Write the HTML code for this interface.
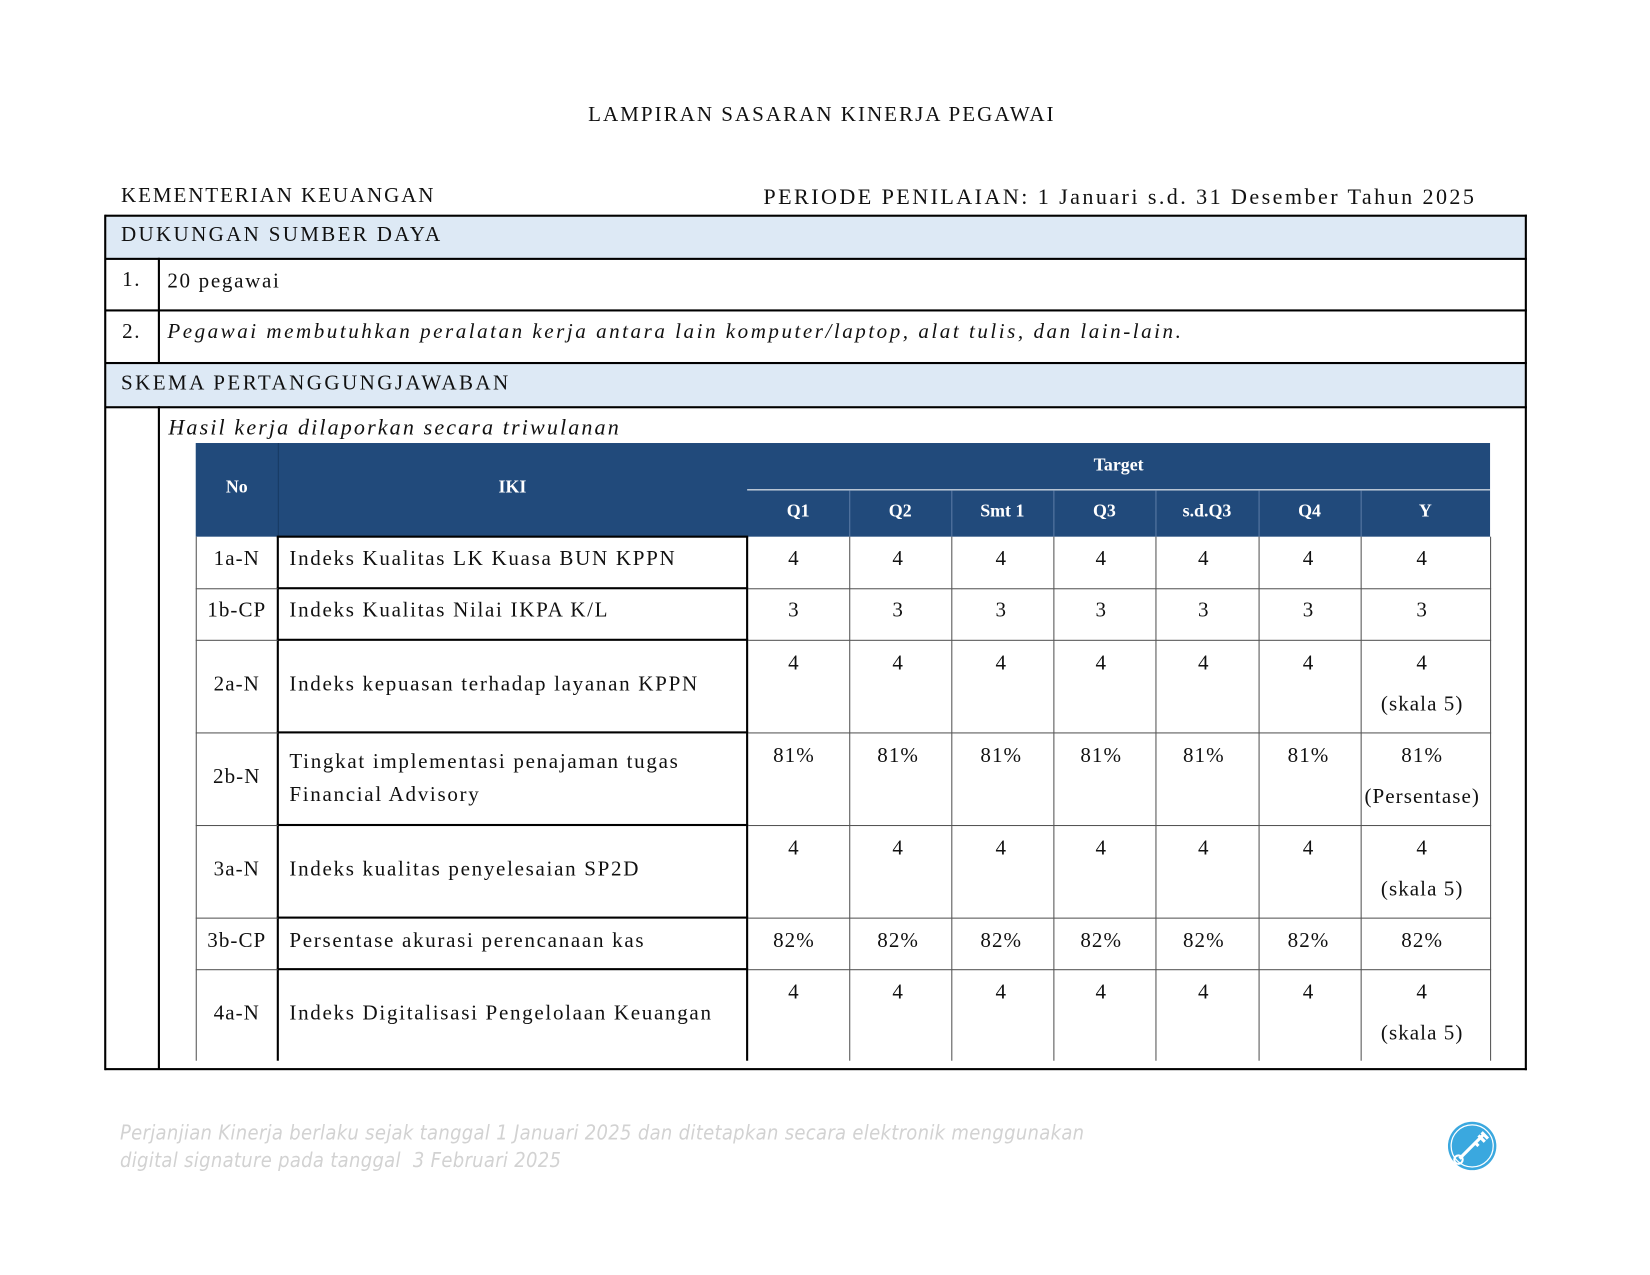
<!DOCTYPE html>
<html><head><meta charset="utf-8"><style>
html,body{margin:0;padding:0;background:#fff;}
body{width:1650px;height:1275px;overflow:hidden;position:relative;}
#pg{position:absolute;left:0;top:0;width:1568px;height:1212px;transform:scale(1.05230);transform-origin:0 0;font-family:"Liberation Serif",serif;color:#111;}
.a{position:absolute;white-space:nowrap;}
.hl{position:absolute;height:2px;background:#000;}
.vl{position:absolute;width:2px;background:#000;}
.band{position:absolute;left:101px;width:1348px;background:#dde9f5;}
.t{font-size:20px;letter-spacing:1.6px;}
.c{position:absolute;text-align:center;font-size:20px;letter-spacing:1px;}
.hd{position:absolute;color:#fff;font-weight:bold;font-size:17px;text-align:center;}
.gv{position:absolute;width:1px;background:#555;}
.gh{position:absolute;height:1px;background:#555;}
</style></head><body><div id="pg">
<div class="a" style="left:0;width:1562px;text-align:center;top:98px;font-size:20px;letter-spacing:1.9px;">LAMPIRAN SASARAN KINERJA PEGAWAI</div>
<div class="a t" style="left:115px;top:175px;letter-spacing:1.8px;">KEMENTERIAN KEUANGAN</div>
<div class="a t" style="right:165px;top:175px;font-size:21px;letter-spacing:2.3px;">PERIODE PENILAIAN: 1 Januari s.d. 31 Desember Tahun 2025</div>

<div class="band" style="top:206px;height:40px;"></div>
<div class="band" style="top:346px;height:40px;"></div>
<div class="hl" style="left:100px;width:1351px;top:204px;"></div>
<div class="hl" style="left:100px;width:1351px;top:245px;"></div>
<div class="hl" style="left:100px;width:1351px;top:294px;"></div>
<div class="hl" style="left:100px;width:1351px;top:344px;"></div>
<div class="hl" style="left:100px;width:1351px;top:386px;"></div>
<div class="hl" style="left:100px;width:1351px;top:1015px;"></div>
<div class="vl" style="left:99px;top:204px;height:813px;"></div>
<div class="vl" style="left:1449px;top:204px;height:813px;"></div>
<div class="vl" style="left:150px;top:245px;height:100px;"></div>
<div class="vl" style="left:150px;top:386px;height:630px;"></div>

<div class="a t" style="left:115px;top:212px;letter-spacing:2.2px;">DUKUNGAN SUMBER DAYA</div>
<div class="a t" style="left:116px;top:255px;">1.</div>
<div class="a t" style="left:159px;top:256px;">20 pegawai</div>
<div class="a t" style="left:116px;top:304px;">2.</div>
<div class="a t" style="left:159px;top:304px;font-style:italic;letter-spacing:2.4px;">Pegawai membutuhkan peralatan kerja antara lain komputer/laptop, alat tulis, dan lain-lain.</div>
<div class="a t" style="left:115px;top:353px;letter-spacing:2.3px;">SKEMA PERTANGGUNGJAWABAN</div>
<div class="a" style="left:160px;top:394px;font-size:21px;font-style:italic;letter-spacing:2px;">Hasil kerja dilaporkan secara triwulanan</div>

<div style="position:absolute;left:186px;top:421px;width:1230px;height:89px;background:#214a7b;"></div>
<div class="gv" style="left:264px;top:421px;height:89px;background:#173a63;"></div>
<div class="gh" style="left:710px;top:465px;width:706px;background:#fff;"></div>
<div class="hd" style="left:186px;width:78px;top:453px;">No</div>
<div class="hd" style="left:264px;width:446px;top:453px;">IKI</div>
<div class="hd" style="left:710px;width:706px;top:432px;">Target</div>
<div class="hd" style="left:710px;width:97px;top:476px;">Q1</div>
<div class="hd" style="left:807px;width:97px;top:476px;">Q2</div>
<div class="hd" style="left:904px;width:97px;top:476px;">Smt 1</div>
<div class="hd" style="left:1001px;width:97px;top:476px;">Q3</div>
<div class="hd" style="left:1098px;width:98px;top:476px;">s.d.Q3</div>
<div class="hd" style="left:1196px;width:97px;top:476px;">Q4</div>
<div class="hd" style="left:1293px;width:123px;top:476px;">Y</div>
<div class="gv" style="left:807px;top:466px;height:44px;background:#5a7aa5;"></div>
<div class="gv" style="left:904px;top:466px;height:44px;background:#5a7aa5;"></div>
<div class="gv" style="left:1001px;top:466px;height:44px;background:#5a7aa5;"></div>
<div class="gv" style="left:1098px;top:466px;height:44px;background:#5a7aa5;"></div>
<div class="gv" style="left:1196px;top:466px;height:44px;background:#5a7aa5;"></div>
<div class="gv" style="left:1293px;top:466px;height:44px;background:#5a7aa5;"></div>

<div class="gv" style="left:186px;top:510px;height:498px;"></div>
<div class="vl" style="left:263px;top:510px;height:498px;"></div>
<div class="vl" style="left:709px;top:510px;height:498px;"></div>
<div class="gv" style="left:807px;top:510px;height:498px;"></div>
<div class="gv" style="left:904px;top:510px;height:498px;"></div>
<div class="gv" style="left:1001px;top:510px;height:498px;"></div>
<div class="gv" style="left:1098px;top:510px;height:498px;"></div>
<div class="gv" style="left:1196px;top:510px;height:498px;"></div>
<div class="gv" style="left:1293px;top:510px;height:498px;"></div>
<div class="gv" style="left:1416px;top:510px;height:498px;"></div>
<div class="hl" style="left:263px;width:448px;top:509px;"></div>
<div class="hl" style="left:263px;width:448px;top:558px;"></div>
<div class="hl" style="left:263px;width:448px;top:607px;"></div>
<div class="hl" style="left:263px;width:448px;top:695px;"></div>
<div class="hl" style="left:263px;width:448px;top:783px;"></div>
<div class="hl" style="left:263px;width:448px;top:871px;"></div>
<div class="hl" style="left:263px;width:448px;top:920px;"></div>
<div class="gh" style="left:186px;width:78px;top:559px;"></div>
<div class="gh" style="left:186px;width:78px;top:608px;"></div>
<div class="gh" style="left:186px;width:78px;top:696px;"></div>
<div class="gh" style="left:186px;width:78px;top:784px;"></div>
<div class="gh" style="left:186px;width:78px;top:872px;"></div>
<div class="gh" style="left:186px;width:78px;top:921px;"></div>
<div class="gh" style="left:711px;width:706px;top:559px;"></div>
<div class="gh" style="left:711px;width:706px;top:608px;"></div>
<div class="gh" style="left:711px;width:706px;top:696px;"></div>
<div class="gh" style="left:711px;width:706px;top:784px;"></div>
<div class="gh" style="left:711px;width:706px;top:872px;"></div>
<div class="gh" style="left:711px;width:706px;top:921px;"></div>

<div class="c" style="left:186px;width:78px;top:520px;">1a-N</div>
<div class="a t" style="left:275px;top:520px;">Indeks Kualitas LK Kuasa BUN KPPN</div>
<div class="c" style="left:186px;width:78px;top:569px;">1b-CP</div>
<div class="a t" style="left:275px;top:569px;">Indeks Kualitas Nilai IKPA K/L</div>
<div class="c" style="left:186px;width:78px;top:639px;">2a-N</div>
<div class="a t" style="left:275px;top:639px;">Indeks kepuasan terhadap layanan KPPN</div>
<div class="c" style="left:186px;width:78px;top:727px;">2b-N</div>
<div class="a t" style="left:275px;top:709px;line-height:31px;">Tingkat implementasi penajaman tugas<br>Financial Advisory</div>
<div class="c" style="left:186px;width:78px;top:815px;">3a-N</div>
<div class="a t" style="left:275px;top:815px;">Indeks kualitas penyelesaian SP2D</div>
<div class="c" style="left:186px;width:78px;top:883px;">3b-CP</div>
<div class="a t" style="left:275px;top:883px;">Persentase akurasi perencanaan kas</div>
<div class="c" style="left:186px;width:78px;top:952px;">4a-N</div>
<div class="a t" style="left:275px;top:952px;">Indeks Digitalisasi Pengelolaan Keuangan</div>

<div id="vals"></div>
<script>
var cols=[[706,97],[805,97],[903,97],[998,97],[1095,98],[1195,97],[1290,123]];
var rows=[[520,'4',''],[569,'3',''],[619,'4','(skala 5)'],[707,'81%','(Persentase)'],[795,'4','(skala 5)'],[883,'82%',''],[932,'4','(skala 5)']];
var h='';
rows.forEach(function(r){cols.forEach(function(c,i){
h+='<div class="c" style="left:'+c[0]+'px;width:'+c[1]+'px;top:'+r[0]+'px;">'+r[1]+'</div>';
if(i==6&&r[2])h+='<div class="c" style="left:'+c[0]+'px;width:'+c[1]+'px;top:'+(r[0]+39)+'px;">'+r[2]+'</div>';
});});
document.getElementById('vals').innerHTML=h;
</script>

<div class="a" style="left:114px;top:1064px;font-family:'DejaVu Sans Condensed','Liberation Sans',sans-serif;font-style:italic;font-size:19px;color:#d2d2d2;line-height:26px;letter-spacing:0.3px;">Perjanjian Kinerja berlaku sejak tanggal 1 Januari 2025 dan ditetapkan secara elektronik menggunakan<br>digital signature pada tanggal&nbsp; 3 Februari 2025</div>
<svg style="position:absolute;left:1375px;top:1065px;" width="48" height="48" viewBox="0 0 48 48">
<circle cx="24" cy="24" r="23" fill="#3aa8df"/>
<circle cx="24" cy="24" r="20" fill="none" stroke="#fff" stroke-width="1.2"/>
<path d="M12 36 L34 14 M30 14 L36 20 M33 11 L39 17 M26 20 L30 24" stroke="#fff" stroke-width="3" fill="none"/>
<circle cx="11" cy="37" r="4" fill="none" stroke="#fff" stroke-width="2"/>
</svg>
</div></body></html>
